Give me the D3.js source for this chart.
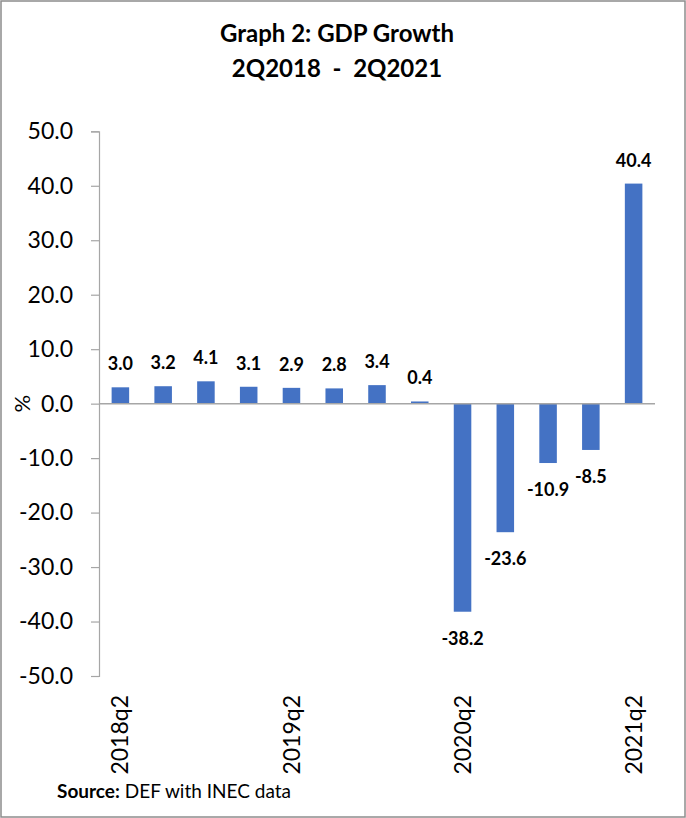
<!DOCTYPE html>
<html>
<head>
<meta charset="utf-8">
<script src="https://cdn.jsdelivr.net/npm/d3@7"></script>
<style>
  body { margin: 0; background: #fff; }
  svg { display: block; font-family: Lato, "Open Sans", sans-serif; }
</style>
</head>
<body>
<div id="chart"></div>
<script>
// data
const quarters = ["2018q2", "2018q3", "2018q4", "2019q1", "2019q2", "2019q3", "2019q4",
    "2020q1", "2020q2", "2020q3", "2020q4", "2021q1", "2021q2"];
const growth = [3.0, 3.2, 4.1, 3.1, 2.9, 2.8, 3.4, 0.4, -38.2, -23.6, -10.9, -8.5, 40.4];
const yTicks = [-50, -40, -30, -20, -10, 0, 10, 20, 30, 40, 50];
const shownLabels = ["2018q2", "2019q2", "2020q2", "2021q2"];

const width = 686, height = 818;
const svg = d3.select("#chart").append("svg")
    .attr("width", width)
    .attr("height", height);

// excel style number format, plain hyphen for minus
const fmt = d => d3.format(".1f")(d).replace("\u2212", "-");

// outer frame
svg.append("rect")
    .attr("x", 1).attr("y", 1)
    .attr("width", width - 2).attr("height", height - 2)
    .attr("fill", "#fff")
    .attr("stroke", "#8c8c8c")
    .attr("stroke-width", 1.5);

// title
svg.append("text")
    .attr("x", 337).attr("y", 42)
    .attr("text-anchor", "middle")
    .attr("font-size", 24).attr("font-weight", "bold")
    .text("Graph 2: GDP Growth");
svg.append("text")
    .attr("x", 337).attr("y", 77)
    .attr("text-anchor", "middle")
    .attr("font-size", 24).attr("font-weight", "bold")
    .attr("xml:space", "preserve")
    .text("2Q2018  -  2Q2021");

// scales
const x = d3.scaleBand()
    .domain(quarters)
    .range([99, 655])
    .paddingInner(0.59)
    .paddingOuter(0.295);

const y = d3.scaleLinear()
    .domain([-50, 50])
    .range([676, 131.3]);

// y axis
const yAxis = svg.append("g")
    .attr("transform", "translate(99,0)")
    .call(d3.axisLeft(y).tickValues(yTicks).tickFormat(fmt).tickSize(8).tickPadding(18));
yAxis.select(".domain").attr("stroke", "#a6a6a6").attr("stroke-width", 1.2);
yAxis.selectAll(".tick line").attr("stroke", "#a6a6a6").attr("stroke-width", 1.2);
yAxis.selectAll(".tick text")
    .attr("font-size", 23)
    .attr("font-family", "Lato, 'Open Sans', sans-serif")
    .attr("fill", "#000");

// % label
svg.append("text")
    .attr("transform", "translate(22," + y(0) + ") rotate(-90)")
    .attr("text-anchor", "middle")
    .attr("dy", "0.35em")
    .attr("font-size", 22)
    .text("%");

// bars
svg.append("g").selectAll("rect")
    .data(growth)
    .enter().append("rect")
    .attr("x", (d, i) => x(quarters[i]))
    .attr("width", x.bandwidth())
    .attr("y", d => y(Math.max(0, d)))
    .attr("height", d => Math.abs(y(d) - y(0)))
    .attr("fill", "#4472c4");

// zero line (x axis)
svg.append("line")
    .attr("x1", 99).attr("x2", 655)
    .attr("y1", y(0)).attr("y2", y(0))
    .attr("stroke", "#a6a6a6")
    .attr("stroke-width", 1.5);

// value labels
svg.append("g").selectAll("text")
    .data(growth)
    .enter().append("text")
    .attr("x", (d, i) => x(quarters[i]) + x.bandwidth() / 2)
    .attr("y", d => d >= 0 ? y(d) - 17 : y(d) + 33)
    .attr("text-anchor", "middle")
    .attr("font-size", 18)
    .attr("font-weight", "bold")
    .text(fmt);

// category labels (every 4th quarter)
svg.append("g").selectAll("text")
    .data(shownLabels)
    .enter().append("text")
    .attr("transform", d => "translate(" + (x(d) + x.bandwidth() / 2) + ",695) rotate(-90)")
    .attr("text-anchor", "end")
    .attr("dy", "0.35em")
    .attr("font-size", 23)
    .text(d => d);

// source
const src = svg.append("text")
    .attr("x", 57).attr("y", 798)
    .attr("font-size", 19);
src.append("tspan").attr("font-weight", "bold").text("Source:");
src.append("tspan").text(" DEF with INEC data");
</script>
</body>
</html>
